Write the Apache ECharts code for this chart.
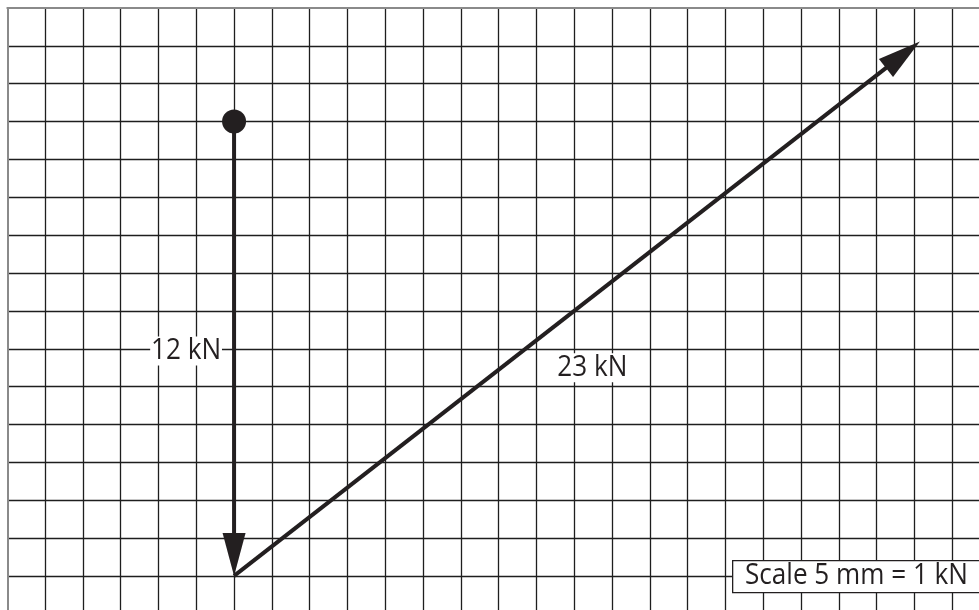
<!DOCTYPE html>
<html>
<head>
<meta charset="utf-8">
<script src="https://cdn.jsdelivr.net/npm/echarts@6.0.0/dist/echarts.min.js"></script>
<style>
html,body{margin:0;padding:0;background:#fff;}
#chart{width:979px;height:610px;}
</style>
</head>
<body>
<div id="chart"></div>
<script>
// grid squares: 1 square = 5 mm = 1 kN
const vectorStarts = [[6, 3], [6, 15]];
const vectorEnds = [[6, 15], [24, 1]];
const vectorLabels = ['12 kN', '23 kN'];
const labelPoints = [[4.73, 9.06], [15.48, 9.5]];
const originPoint = [[6, 3]];
const scaleText = 'Scale 5 mm = 1 kN';

const INK = '#231f20';
const FONT_FAMILY = "'Open Sans', sans-serif";
const FONT = '29px ' + FONT_FAMILY;
const tipExtend = [0, 7];

// horizontal squeeze so the humanist font matches the narrow original lettering
const cv = document.createElement('canvas').getContext('2d');
cv.font = FONT;
const SX = 223 / cv.measureText(scaleText).width;

const vecData = vectorStarts.map((s, i) => [s[0], s[1], vectorEnds[i][0], vectorEnds[i][1]]);
const labelData = labelPoints.map((p, i) => [p[0], p[1], vectorLabels[i]]);

const chart = echarts.init(document.getElementById('chart'));
chart.setOption({
  animation: false,
  backgroundColor: '#fff',
  grid: { left: 7.3, top: 8, right: 0, bottom: 0, containLabel: false },
  xAxis: {
    type: 'value', position: 'top', min: 0, max: 25.71, interval: 1,
    axisLabel: { show: false }, axisTick: { show: false },
    axisLine: { show: true, onZero: false, lineStyle: { color: '#8a8a8a', width: 2 } },
    splitLine: { show: true, showMinLine: false, showMaxLine: false, lineStyle: { color: '#1e1e1e', width: 1.3 } }
  },
  yAxis: {
    type: 'value', inverse: true, min: 0, max: 15.9, interval: 1,
    axisLabel: { show: false }, axisTick: { show: false },
    axisLine: { show: true, onZero: false, lineStyle: { color: '#8a8a8a', width: 2 } },
    splitLine: { show: true, showMinLine: false, showMaxLine: false, lineStyle: { color: '#1e1e1e', width: 1.3 } }
  },
  series: [
    {
      type: 'custom',
      data: vecData,
      z: 5,
      renderItem: function (params, api) {
        const p1 = api.coord([api.value(0), api.value(1)]);
        const p2 = api.coord([api.value(2), api.value(3)]);
        let dx = p2[0] - p1[0], dy = p2[1] - p1[1];
        const L = Math.sqrt(dx * dx + dy * dy);
        dx /= L; dy /= L;
        const ext = tipExtend[params.dataIndex];
        const tip = [p2[0] + dx * ext, p2[1] + dy * ext];
        const hl = 43, hw = 23;
        const base = [tip[0] - dx * hl, tip[1] - dy * hl];
        const px = -dy, py = dx;
        return {
          type: 'group',
          children: [
            { type: 'line', shape: { x1: p1[0], y1: p1[1], x2: base[0] + dx * 3, y2: base[1] + dy * 3 },
              style: { stroke: INK, lineWidth: 4 } },
            { type: 'polygon', shape: { points: [tip, [base[0] + px * hw / 2, base[1] + py * hw / 2], [base[0] - px * hw / 2, base[1] - py * hw / 2]] },
              style: { fill: INK } }
          ]
        };
      }
    },
    {
      type: 'scatter',
      data: originPoint,
      symbol: 'circle',
      symbolSize: 24,
      itemStyle: { color: INK, opacity: 1 },
      z: 6
    },
    {
      type: 'custom',
      data: labelData,
      z: 7,
      renderItem: function (params, api) {
        const p = api.coord([api.value(0), api.value(1)]);
        return {
          type: 'text',
          x: p[0], y: p[1],
          scaleX: SX,
          style: {
            text: vectorLabels[params.dataIndex],
            fill: INK, font: FONT,
            align: 'center', verticalAlign: 'middle',
            backgroundColor: '#fff', padding: [0, 1]
          }
        };
      }
    }
  ],
  graphic: [
    { type: 'rect', left: 732, top: 560, z: 100,
      shape: { x: 0, y: 0, width: 270, height: 32 },
      style: { fill: '#fff', stroke: INK, lineWidth: 1.3 } },
    { type: 'text', x: 745, y: 576, z: 101, scaleX: SX,
      style: { text: scaleText, fill: INK, font: FONT, verticalAlign: 'middle' } }
  ]
});
</script>
</body>
</html>
